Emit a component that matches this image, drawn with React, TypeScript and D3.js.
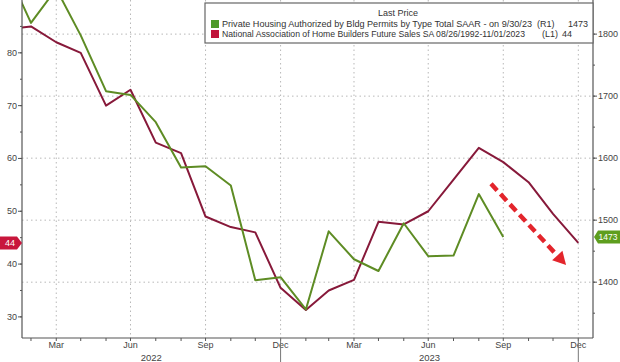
import React, { useRef, useEffect } from 'react';
import * as d3 from 'd3';

// monthly observations, plotted at month end (Jan 2022 .. Dec 2023)
const months: string[] = [
  '2022-01', '2022-02', '2022-03', '2022-04', '2022-05', '2022-06',
  '2022-07', '2022-08', '2022-09', '2022-10', '2022-11', '2022-12',
  '2023-01', '2023-02', '2023-03', '2023-04', '2023-05', '2023-06',
  '2023-07', '2023-08', '2023-09', '2023-10', '2023-11', '2023-12'
];

// Private Housing Authorized by Bldg Permits (R1), thousands SAAR
const permits: (number | null)[] = [
  1898, 1818, 1873, 1798, 1708, 1702, 1658, 1585, 1587, 1556, 1403, 1408,
  1356, 1482, 1437, 1418, 1495, 1442, 1443, 1542, 1473, null, null, null
];

// NAHB Future Sales (L1)
const futureSales: number[] = [
  84.5, 85, 82, 80, 70, 73, 63, 61, 49, 47, 46, 35.5,
  31.3, 35, 37, 48, 47.5, 50, 56, 62, 59.3, 55.5, 49.5, 44
];

const leftTicks = [30, 40, 50, 60, 70, 80];
const rightTicks = [1400, 1500, 1600, 1700, 1800];
const quarterLabels = ['Mar', 'Jun', 'Sep', 'Dec'];
const years = ['2022', '2023'];

// annotation arrow (date, left-axis value)
const arrowFrom = { date: '2023-09-15', value: 55.2 };
const arrowTo = { date: '2023-12-16', value: 39.8 };

const W = 620;
const H = 362;
const GREEN = '#5e8c24';
const RED = '#87193a';

const monthEnd = (s: string) => {
  const [y, m] = s.split('-').map(Number);
  return new Date(y, m, 0);
};

const App: React.FC = () => {
  const svgRef = useRef<SVGSVGElement>(null);

  useEffect(() => {
    if (!svgRef.current) return;
    const svg = d3.select(svgRef.current);
    svg.selectAll('*').remove();

    const left = 22, right = 593, top = 0, bottom = 338;

    const x = d3.scaleTime()
      .domain([new Date(2022, 1, 17), new Date(2024, 0, 18)])
      .range([left, right]);
    const yL = d3.scaleLinear().domain([26, 90]).range([bottom, top]);
    const yR = d3.scaleLinear().domain([1310, 1855]).range([bottom, top]);

    const font = "'Liberation Sans', Arial, sans-serif";

    svg.append('rect').attr('width', W).attr('height', H).attr('fill', 'white');

    svg.append('defs').append('clipPath').attr('id', 'plot-clip')
      .append('rect').attr('x', left).attr('y', top)
      .attr('width', right - left).attr('height', bottom - top);

    // grid
    const quarterDates = d3.range(2022, 2024).flatMap(yr =>
      [3, 6, 9, 12].map(m => new Date(yr, m, 0)));
    svg.append('g').selectAll('line').data(quarterDates).enter().append('line')
      .attr('x1', d => x(d)).attr('x2', d => x(d))
      .attr('y1', top).attr('y2', bottom)
      .attr('stroke', '#b8b8b8').attr('stroke-width', 1)
      .attr('stroke-dasharray', '1.5,3');
    svg.append('g').selectAll('line').data(rightTicks).enter().append('line')
      .attr('x1', left).attr('x2', right)
      .attr('y1', d => yR(d)).attr('y2', d => yR(d))
      .attr('stroke', '#b8b8b8').attr('stroke-width', 1)
      .attr('stroke-dasharray', '1.5,3');

    // series
    const plot = svg.append('g').attr('clip-path', 'url(#plot-clip)');
    const redLine = d3.line<number>()
      .x((_, i) => x(monthEnd(months[i])))
      .y(d => yL(d));
    plot.append('path').datum(futureSales)
      .attr('d', redLine).attr('fill', 'none')
      .attr('stroke', RED).attr('stroke-width', 2).attr('stroke-linejoin', 'round');

    const greenLine = d3.line<number | null>()
      .defined(d => d !== null)
      .x((_, i) => x(monthEnd(months[i])))
      .y(d => yR(d as number));
    plot.append('path').datum(permits)
      .attr('d', greenLine).attr('fill', 'none')
      .attr('stroke', GREEN).attr('stroke-width', 2).attr('stroke-linejoin', 'round');

    // arrow annotation
    const ax1 = x(new Date(arrowFrom.date)), ay1 = yL(arrowFrom.value);
    const ax2 = x(new Date(arrowTo.date)), ay2 = yL(arrowTo.value);
    const ang = Math.atan2(ay2 - ay1, ax2 - ax1);
    const headLen = 13;
    const bx = ax2 - Math.cos(ang) * headLen, by = ay2 - Math.sin(ang) * headLen;
    svg.append('line')
      .attr('x1', ax1).attr('y1', ay1).attr('x2', bx).attr('y2', by)
      .attr('stroke', '#e3252c').attr('stroke-width', 4.5)
      .attr('stroke-dasharray', '9,5');
    const perp = ang + Math.PI / 2;
    const hw = 7;
    svg.append('path')
      .attr('d', `M${ax2},${ay2}L${bx + Math.cos(perp) * hw},${by + Math.sin(perp) * hw}L${bx - Math.cos(perp) * hw},${by - Math.sin(perp) * hw}Z`)
      .attr('fill', '#e3252c');

    // axes lines
    svg.append('line').attr('x1', left).attr('x2', left).attr('y1', top).attr('y2', bottom)
      .attr('stroke', '#555').attr('stroke-width', 1.2);
    svg.append('line').attr('x1', right).attr('x2', right).attr('y1', top).attr('y2', bottom)
      .attr('stroke', '#555').attr('stroke-width', 1.2);
    svg.append('line').attr('x1', left).attr('x2', right).attr('y1', bottom).attr('y2', bottom)
      .attr('stroke', '#555').attr('stroke-width', 1.2);

    // left ticks
    const lg = svg.append('g');
    lg.selectAll('line.minor').data(d3.range(30, 90, 5)).enter().append('line')
      .attr('x1', left - 2).attr('x2', left).attr('y1', d => yL(d)).attr('y2', d => yL(d))
      .attr('stroke', '#555');
    lg.selectAll('line.major').data(leftTicks).enter().append('line')
      .attr('x1', left - 4).attr('x2', left).attr('y1', d => yL(d)).attr('y2', d => yL(d))
      .attr('stroke', '#555');
    lg.selectAll('text').data(leftTicks).enter().append('text')
      .attr('x', left - 5).attr('y', d => yL(d) + 3)
      .attr('text-anchor', 'end').attr('font-family', font).attr('font-size', 9)
      .attr('fill', '#444').text(d => d);

    // right ticks
    const rg = svg.append('g');
    rg.selectAll('line.minor').data(d3.range(1350, 1850, 50)).enter().append('line')
      .attr('x1', right).attr('x2', right + 2).attr('y1', d => yR(d)).attr('y2', d => yR(d))
      .attr('stroke', '#555');
    rg.selectAll('line.major').data(rightTicks).enter().append('line')
      .attr('x1', right).attr('x2', right + 4).attr('y1', d => yR(d)).attr('y2', d => yR(d))
      .attr('stroke', '#555');
    rg.selectAll('text').data(rightTicks).enter().append('text')
      .attr('x', right + 5).attr('y', d => yR(d) + 3)
      .attr('font-family', font).attr('font-size', 9)
      .attr('fill', '#444').text(d => d);

    // bottom ticks
    const bg = svg.append('g');
    const monthTicks = d3.range(1, 24).map(i => new Date(2022, i + 1, 0));
    bg.selectAll('line').data(monthTicks).enter().append('line')
      .attr('x1', d => x(d)).attr('x2', d => x(d))
      .attr('y1', bottom).attr('y2', bottom + 3).attr('stroke', '#555');
    bg.selectAll('text.q').data(quarterDates).enter().append('text')
      .attr('x', d => x(d)).attr('y', bottom + 9.5)
      .attr('text-anchor', 'middle').attr('font-family', font).attr('font-size', 9)
      .attr('fill', '#444').text((_, i) => quarterLabels[i % 4]);

    // year separators and labels
    const yearEnds = [new Date(2022, 11, 31), new Date(2023, 11, 31)];
    bg.selectAll('line.sep').data(yearEnds).enter().append('line')
      .attr('x1', d => x(d)).attr('x2', d => x(d))
      .attr('y1', bottom).attr('y2', H).attr('stroke', '#777');
    const yearSpans = [[left, x(yearEnds[0])], [x(yearEnds[0]), x(yearEnds[1])]];
    bg.selectAll('text.yr').data(years).enter().append('text')
      .attr('x', (_, i) => (yearSpans[i][0] + yearSpans[i][1]) / 2)
      .attr('y', H - 1)
      .attr('text-anchor', 'middle').attr('font-family', font).attr('font-size', 9.5)
      .attr('fill', '#444').text(d => d);

    // last value tags
    const lastRed = futureSales[futureSales.length - 1];
    const ty = yL(lastRed);
    svg.append('path')
      .attr('d', `M0,${ty - 6.5}H17L${left},${ty}L17,${ty + 6.5}H0Z`)
      .attr('fill', '#c8163c');
    svg.append('text').attr('x', 10).attr('y', ty + 3.2)
      .attr('text-anchor', 'middle').attr('font-family', font).attr('font-size', 9)
      .attr('fill', 'white').text(lastRed);

    const lastGreen = permits.filter(d => d !== null).slice(-1)[0] as number;
    const gy = yR(lastGreen);
    svg.append('path')
      .attr('d', `M${right + 1},${gy}L${right + 5},${gy - 6.5}H${W}V${gy + 6.5}H${right + 5}Z`)
      .attr('fill', '#5e9e1e');
    svg.append('text').attr('x', 608).attr('y', gy + 3.2)
      .attr('text-anchor', 'middle').attr('font-family', font).attr('font-size', 8.5)
      .attr('fill', 'white').text(lastGreen);

    // legend
    const lgd = svg.append('g');
    lgd.append('rect').attr('x', 205).attr('y', 3).attr('width', right - 205).attr('height', 40)
      .attr('fill', 'white').attr('stroke', '#666').attr('stroke-width', 1.2);
    lgd.append('text').attr('x', 398).attr('y', 16).attr('text-anchor', 'middle')
      .attr('font-family', font).attr('font-size', 9).attr('fill', '#333').text('Last Price');
    const rows = [
      { color: '#4e9a2a', label: 'Private Housing Authorized by Bldg Permits by Type Total SAAR -  on 9/30/23', len: 310, axis: '(R1)', axisX: 537, last: String(lastGreen), lastX: 568 },
      { color: '#c0143c', label: 'National Association of Home Builders Future Sales SA 08/26/1992-11/01/2023', len: 303, axis: '(L1)', axisX: 542, last: String(lastRed), lastX: 562 }
    ];
    rows.forEach((r, i) => {
      const ry = 27 + i * 10;
      lgd.append('rect').attr('x', 211).attr('y', ry - 7).attr('width', 8).attr('height', 8)
        .attr('fill', r.color);
      lgd.append('text').attr('x', 222).attr('y', ry).attr('font-family', font).attr('font-size', 9)
        .attr('fill', '#333').attr('textLength', r.len).attr('lengthAdjust', 'spacingAndGlyphs')
        .text(r.label);
      lgd.append('text').attr('x', r.axisX).attr('y', ry).attr('font-family', font).attr('font-size', 9)
        .attr('fill', '#333').text(r.axis);
      lgd.append('text').attr('x', r.lastX).attr('y', ry).attr('font-family', font).attr('font-size', 9)
        .attr('fill', '#333').text(r.last);
    });
  }, []);

  return (
    <svg
      ref={svgRef}
      width={W}
      height={H}
      style={{ position: 'absolute', left: 0, top: 0 }}
    />
  );
};

export default App;
